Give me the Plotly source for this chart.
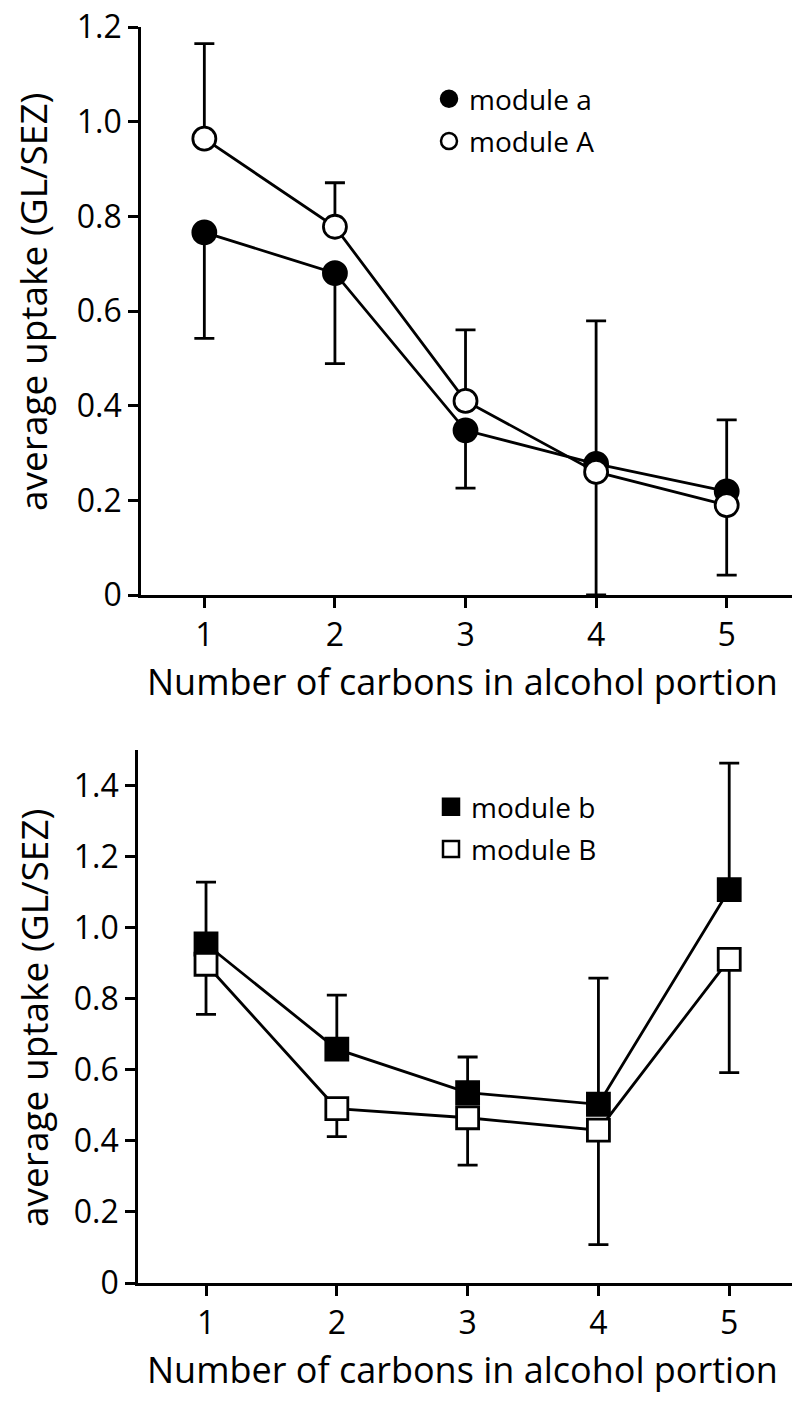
import plotly.graph_objects as go

# ---------------- data ----------------
carbons = [1, 2, 3, 4, 5]

# top panel
module_a = [0.766, 0.680, 0.348, 0.277, 0.219]
module_a_err_minus = [0.224, 0.191, 0.122, 0.277, 0.177]
module_A = [0.964, 0.778, 0.410, 0.260, 0.190]
module_A_err_plus = [0.201, 0.093, 0.150, 0.319, 0.180]

# bottom panel
module_b = [0.954, 0.658, 0.536, 0.503, 1.107]
module_b_err_plus = [0.174, 0.152, 0.100, 0.355, 0.356]
module_B = [0.897, 0.491, 0.465, 0.430, 0.911]
module_B_err_minus = [0.141, 0.079, 0.133, 0.322, 0.319]

top_yticks = [0, 0.2, 0.4, 0.6, 0.8, 1.0, 1.2]
top_yticklabels = ["0", "0.2", "0.4", "0.6", "0.8", "1.0", "1.2"]
bot_yticks = [0, 0.2, 0.4, 0.6, 0.8, 1.0, 1.2, 1.4]
bot_yticklabels = ["0", "0.2", "0.4", "0.6", "0.8", "1.0", "1.2", "1.4"]

x_title = "Number of carbons in alcohol portion"
y_title = "average uptake (GL/SEZ)"

# ---------------- styling ----------------
W, H = 800, 1406
FONT = "Open Sans"
LW = 2.8
MSIZE = 23

def px_x(p):
    return p / W

def px_y(p):
    return (H - p) / H

zero = [0] * len(carbons)

def err(plus, minus):
    return dict(type="data", symmetric=False, array=plus, arrayminus=minus,
                color="black", thickness=LW, width=10, visible=True)

fig = go.Figure()

# top panel
fig.add_trace(go.Scatter(
    x=carbons, y=module_a, mode="lines+markers", xaxis="x", yaxis="y",
    line=dict(color="black", width=LW),
    marker=dict(symbol="circle", size=MSIZE, color="black",
                line=dict(color="black", width=LW)),
    error_y=err(zero, module_a_err_minus), showlegend=False))
fig.add_trace(go.Scatter(
    x=carbons, y=module_A, mode="lines+markers", xaxis="x", yaxis="y",
    line=dict(color="black", width=LW),
    marker=dict(symbol="circle", size=MSIZE, color="white",
                line=dict(color="black", width=LW)),
    error_y=err(module_A_err_plus, zero), showlegend=False))

# bottom panel
fig.add_trace(go.Scatter(
    x=carbons, y=module_b, mode="lines+markers", xaxis="x2", yaxis="y2",
    line=dict(color="black", width=LW),
    marker=dict(symbol="square", size=MSIZE - 1, color="black",
                line=dict(color="black", width=LW)),
    error_y=err(module_b_err_plus, zero), showlegend=False))
fig.add_trace(go.Scatter(
    x=carbons, y=module_B, mode="lines+markers", xaxis="x2", yaxis="y2",
    line=dict(color="black", width=LW),
    marker=dict(symbol="square", size=MSIZE - 1, color="white",
                line=dict(color="black", width=LW)),
    error_y=err(zero, module_B_err_minus), showlegend=False))

# legend entries (marker only)
def leg(name, sym, fill, legend, group, xa, ya):
    fig.add_trace(go.Scatter(
        x=[None], y=[None], mode="markers", name=name, xaxis=xa, yaxis=ya,
        legend=legend, legendgroup=group,
        marker=dict(symbol=sym, size=MSIZE, color=fill,
                    line=dict(color="black", width=2.5))))

leg("module a", "circle", "black", "legend", "a", "x", "y")
leg("module A", "circle", "white", "legend", "A", "x", "y")
leg("module b", "square", "black", "legend2", "b", "x2", "y2")
leg("module B", "square", "white", "legend2", "B", "x2", "y2")

axis_common = dict(
    showline=True, linecolor="black", linewidth=LW, mirror=False,
    showgrid=False, zeroline=False, ticks="outside", ticklen=10,
    tickwidth=LW, tickcolor="black", automargin=False,
    ticklabeloverflow="allow",
    tickfont=dict(family=FONT, size=32, color="black"),
)

legend_common = dict(
    font=dict(family=FONT, size=28, color="black"),
    bgcolor="rgba(0,0,0,0)", borderwidth=0,
    xanchor="left", yanchor="top", tracegroupgap=3,
    itemsizing="trace",
)

fig.update_layout(
    width=W, height=H,
    paper_bgcolor="white", plot_bgcolor="white",
    margin=dict(l=0, r=0, t=0, b=0),
    font=dict(family=FONT, color="black"),
    xaxis=dict(domain=[px_x(141), px_x(792)], range=[0.515, 5.5], anchor="y",
               tickvals=carbons, ticktext=[str(c) for c in carbons], **axis_common),
    yaxis=dict(domain=[px_y(595), px_y(27)], range=[0, 1.2], anchor="x",
               tickvals=top_yticks, ticktext=top_yticklabels, **axis_common),
    xaxis2=dict(domain=[px_x(138), px_x(792)], range=[0.48, 5.48], anchor="y2",
                tickvals=carbons, ticktext=[str(c) for c in carbons], **axis_common),
    yaxis2=dict(domain=[px_y(1283), px_y(750)], range=[0, 1.5], anchor="x2",
                tickvals=bot_yticks, ticktext=bot_yticklabels, **axis_common),
    legend=dict(x=px_x(429), y=px_y(74), **legend_common),
    legend2=dict(x=px_x(431), y=px_y(782), **legend_common),
    annotations=[
        dict(text=x_title, xref="paper", yref="paper", x=px_x(462), y=px_y(681),
             xanchor="center", yanchor="middle", showarrow=False,
             font=dict(family=FONT, size=36, color="black")),
        dict(text=x_title, xref="paper", yref="paper", x=px_x(462), y=px_y(1369),
             xanchor="center", yanchor="middle", showarrow=False,
             font=dict(family=FONT, size=36, color="black")),
        dict(text=y_title, xref="paper", yref="paper", x=px_x(33), y=px_y(302),
             xanchor="center", yanchor="middle", showarrow=False, textangle=-90,
             font=dict(family=FONT, size=37, color="black")),
        dict(text=y_title, xref="paper", yref="paper", x=px_x(33), y=px_y(1018),
             xanchor="center", yanchor="middle", showarrow=False, textangle=-90,
             font=dict(family=FONT, size=37, color="black")),
    ],
)

# remove the default 8px page margin so the figure fills the window exactly
fig.write_html("out.html",
               config={"displayModeBar": False},
               post_script="document.body.style.margin='0px';")
